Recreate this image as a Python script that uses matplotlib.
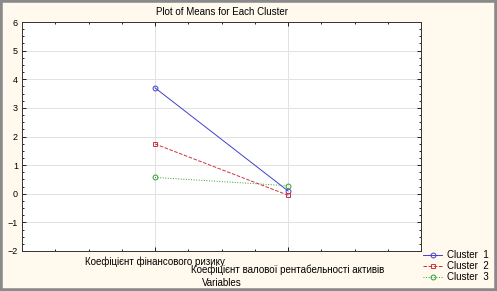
import matplotlib
matplotlib.use("Agg")
import matplotlib.pyplot as plt
from matplotlib.patches import Rectangle
from matplotlib.ticker import MultipleLocator

variables = ["Коефіцієнт фінансового ризику",
             "Коефіцієнт валової рентабельності активів"]
cluster_names = ["Cluster  1", "Cluster  2", "Cluster  3"]
cluster1 = [3.70, 0.10]
cluster2 = [1.74, -0.05]
cluster3 = [0.57, 0.28]

plt.rcParams['font.family'] = ['Liberation Sans', 'DejaVu Sans']
plt.rcParams['font.size'] = 7

bg = '#fff9ee'
fig = plt.figure(figsize=(4.97, 2.91), dpi=100, facecolor=bg)
# window frame
fig.patches.append(Rectangle((0, 0), 1, 1, transform=fig.transFigure, fill=False,
                             edgecolor='#8a8a8a', linewidth=4, zorder=10))

ax = fig.add_axes([22 / 497, 1 - 251 / 291, 399 / 497, 229 / 291])
ax.set_facecolor('white')

x = [0, 1]
styles = [('#4040d0', '-', 'o'), ('#d03040', '--', 's'), ('#30a030', ':', 'o')]
for vals, name, (c, ls, m) in zip([cluster1, cluster2, cluster3], cluster_names, styles):
    ax.plot(x, vals, color=c, linestyle=ls, linewidth=0.7, marker=m, markersize=3.5,
            markerfacecolor='none', markeredgecolor=c, markeredgewidth=0.7, label=name)

ax.set_xlim(-1, 2)
ax.set_ylim(-2, 6)
ax.set_xticks(x)
ax.set_xticklabels(variables)
ax.xaxis.set_minor_locator(MultipleLocator(0.25))
ax.yaxis.set_major_locator(MultipleLocator(1))
ax.yaxis.set_minor_locator(MultipleLocator(0.25))
ax.tick_params(which='both', direction='in', top=True, right=True, width=0.6)
ax.tick_params(which='major', length=3)
ax.tick_params(axis='x', which='major', pad=4)
ax.tick_params(axis='y', which='major', pad=3, labelsize=6.5)
ax.tick_params(which='minor', length=1.5)
# stagger the second label one line down, like the original
ax.xaxis.get_major_ticks()[1].set_pad(10)
ax.grid(True, which='major', color='#e2e2e2', linewidth=0.7)
for s in ax.spines.values():
    s.set_linewidth(0.7)
    s.set_color('#333333')

ax.set_title('Plot of Means for Each Cluster', pad=5, fontsize=7)
fig.text(222 / 497, 1 - 283 / 291, 'Variables', ha='center', va='center')

ax.legend(loc='upper left', bbox_to_anchor=(423 / 497, 1 - 250 / 291),
          bbox_transform=fig.transFigure, frameon=False, handlelength=2,
          handletextpad=0.5, labelspacing=0.1, borderaxespad=0, borderpad=0)

fig.savefig('out.png', dpi=100, facecolor=bg)
